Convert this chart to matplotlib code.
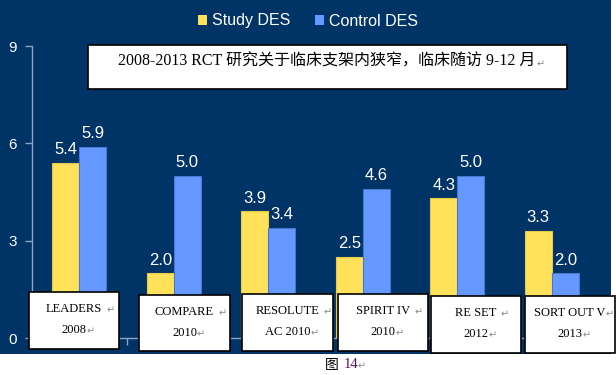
import matplotlib
matplotlib.use("Agg")
import matplotlib.pyplot as plt
from matplotlib.patches import Rectangle, Patch
import numpy as np

categories = ["LEADERS\n2008", "COMPARE\n2010", "RESOLUTE\nAC 2010", "SPIRIT IV\n2010", "RE SET\n2012", "SORT OUT V\n2013"]
study_des = [5.4, 2.0, 3.9, 2.5, 4.3, 3.3]
control_des = [5.9, 5.0, 3.4, 4.6, 5.0, 2.0]
series_names = ["Study DES", "Control DES"]
yticks = [0, 3, 6, 9]
title_text = "2008-2013 RCT 研究关于临床支架内狭窄，临床随访 9-12 月"
caption_text = "图 14"

W, H = 616, 375
NAVY = "#003366"
YEL = "#FFE15A"
BLU = "#6699FF"
AXC = "#8CA3C4"

fig = plt.figure(figsize=(W / 100, H / 100), dpi=100)
fig.patch.set_facecolor("white")

def fx(px):
    return px / W

def fy(py):
    return 1 - py / H

# navy background panel
fig.patches.append(Rectangle((0, fy(354)), fx(611), 354 / H, transform=fig.transFigure,
                             facecolor=NAVY, edgecolor="none", zorder=-10))

ax = fig.add_axes([fx(32), fy(338), fx(567), (338 - 46) / H])
ax.set_zorder(1)
ax.set_facecolor("none")
x = np.arange(len(categories))
bw = 27 / 94.5
b1 = ax.bar(x - bw / 2, study_des, bw, color=YEL, edgecolor="#E6C84A", linewidth=0.8, zorder=3)
b2 = ax.bar(x + bw / 2, control_des, bw, color=BLU, edgecolor="#4A78D0", linewidth=0.8, zorder=3)
for bars in (b1, b2):
    for r in bars:
        ax.annotate(f"{r.get_height():.1f}", (r.get_x() + r.get_width() / 2, r.get_height()),
                    xytext=(0, 4), textcoords="offset points", ha="center", va="bottom",
                    color="white", fontsize=12, family="Liberation Sans")

ax.set_xlim(-0.5, len(categories) - 0.5)
ax.set_ylim(0, 9)
ax.set_yticks(yticks)
ax.set_yticklabels([str(t) for t in yticks], color="white", fontsize=11, family="Liberation Sans")
ax.set_xticks(np.arange(len(categories) + 1) - 0.5)
ax.set_xticklabels([])
ax.tick_params(axis="y", direction="out", length=5, color=AXC, width=1, pad=6)
ax.tick_params(axis="x", direction="out", length=5, color=AXC, width=1)
for s in ("top", "right"):
    ax.spines[s].set_visible(False)
for s in ("left", "bottom"):
    ax.spines[s].set_color(AXC)
    ax.spines[s].set_linewidth(1)

# legend
handles = [Patch(facecolor=YEL, edgecolor="none"), Patch(facecolor=BLU, edgecolor="none")]
leg = fig.legend(handles, series_names, loc="center", bbox_to_anchor=(fx(308), fy(21)), ncol=2,
                 frameon=False, handlelength=0.55, handleheight=0.55, handletextpad=0.3,
                 columnspacing=1.6, prop={"family": "Liberation Sans", "size": 11.5})
for t in leg.get_texts():
    t.set_color("white")

SERIF = ["Liberation Serif", "Noto Sans CJK SC", "DejaVu Sans"]
RET = "↵"

# overlay axes for boxes (above plot axes)
ov = fig.add_axes([0, 0, 1, 1])
ov.set_zorder(5)
ov.set_axis_off()
ov.set_xlim(0, W)
ov.set_ylim(H, 0)

def retmark(xp, yp):
    ov.text(min(xp, 606), yp, RET, ha="left", va="center", fontsize=7, color="#8a8a8a", family="DejaVu Sans")

# title box
ov.add_patch(Rectangle((88, 45), 567 - 88, 89 - 45, facecolor="white", edgecolor="black", linewidth=1.2))
ov.text(118, 62, title_text, ha="left", va="center", fontsize=11.5, family=SERIF)
retmark(537, 64)

# category label boxes
boxes = [(29, 292, 119, 349), (139, 295, 230, 351), (242, 294, 333, 351),
         (338, 294, 428, 351), (431, 296, 521, 353), (525, 296, 615, 353)]
fig.canvas.draw()
r = fig.canvas.get_renderer()
inv = ov.transData.inverted()
for (x0, y0, x1, y1), lab in zip(boxes, categories):
    ov.add_patch(Rectangle((x0, y0), x1 - x0, y1 - y0, facecolor="white", edgecolor="black", linewidth=1.2))
    cx = (x0 + x1) / 2
    for i, line in enumerate(lab.split("\n")):
        yy = y0 + 17 + 21 * i
        tt = ov.text(cx, yy, line, ha="center", va="center", fontsize=9, family=SERIF)
        bb = tt.get_window_extent(renderer=r)
        xr = inv.transform((bb.x1, bb.y0))[0]
        retmark(xr + (4 if i == 0 else 0), yy + 1)

ov.text(325, 365, "图", ha="left", va="center", fontsize=10, family=["Noto Sans CJK SC", "DejaVu Sans"])
ov.text(344, 365, "14", ha="left", va="center", fontsize=10.5, color="#5a1060", family="Liberation Serif")
retmark(358, 366)

fig.savefig("out.png", dpi=100, facecolor=fig.get_facecolor())
